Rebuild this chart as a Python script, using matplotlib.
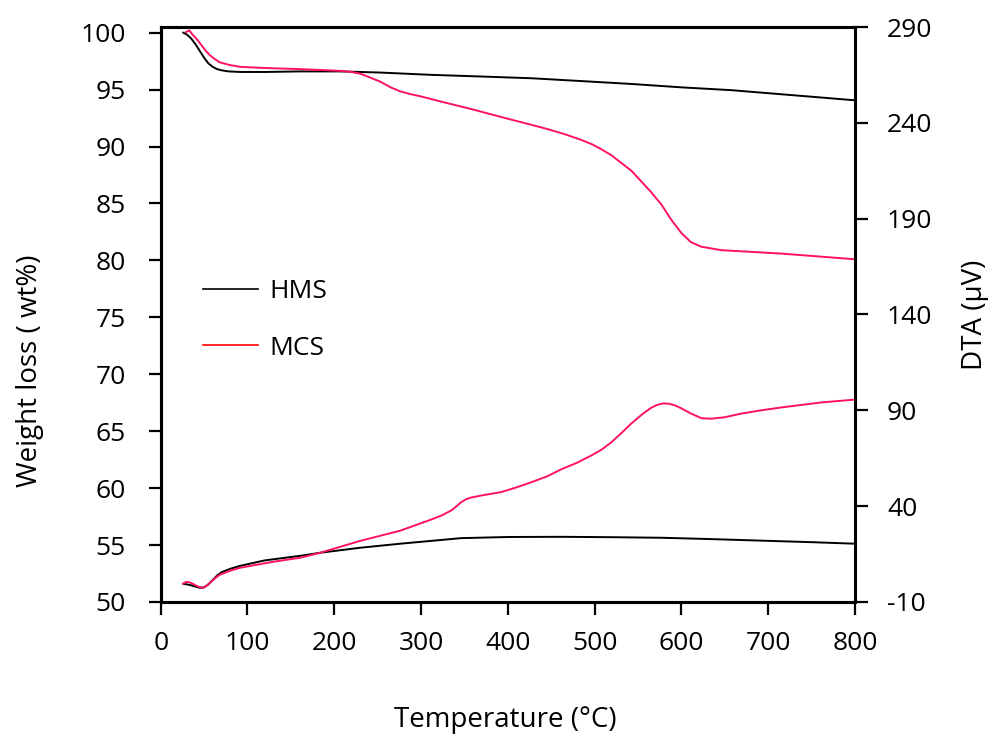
import numpy as np
import matplotlib
matplotlib.use('Agg')
import matplotlib.pyplot as plt
from matplotlib.lines import Line2D

plt.rcParams['font.family'] = ['Open Sans', 'DejaVu Sans']
plt.rcParams['axes.unicode_minus'] = False

# TGA curves (left axis, wt%)
hms_tga_t = [26, 30, 35, 40, 45, 50, 55, 60, 65, 70, 78, 92, 120, 161, 207, 253, 311,
             370, 427, 485, 542, 600, 658, 730, 802]
hms_tga_w = [100.0, 99.85, 99.5, 99.0, 98.4, 97.8, 97.3, 97.0, 96.8, 96.7, 96.6, 96.55,
             96.55, 96.6, 96.6, 96.5, 96.3, 96.15, 96.0, 95.75, 95.5, 95.2, 94.95, 94.5, 94.05]

mcs_tga_t = [29, 33, 37, 42, 47, 52, 57, 62, 68, 80, 92, 120, 161, 207, 220, 230, 240, 253,
             265, 276, 288, 300, 323, 360, 392, 420, 445, 465, 484, 497, 507, 520, 530, 542,
             553, 565, 577, 588, 600, 611, 623, 646, 715, 800]
mcs_tga_w = [100.05, 100.2, 99.8, 99.4, 98.9, 98.4, 98.0, 97.7, 97.4, 97.15, 97.0, 96.9, 96.8,
             96.65, 96.55, 96.4, 96.1, 95.7, 95.2, 94.85, 94.6, 94.4, 93.95, 93.25, 92.6, 92.05,
             91.55, 91.1, 90.6, 90.2, 89.8, 89.2, 88.6, 87.9, 87.0, 86.0, 84.9, 83.6, 82.4,
             81.6, 81.2, 80.9, 80.6, 80.1]

# DTA curves (right axis, uV)
hms_dta_t = [26, 30, 35, 40, 45, 50, 55, 60, 65, 70, 80, 92, 120, 161, 184, 230, 276, 346,
             400, 461, 520, 577, 635, 692, 750, 800]
hms_dta_v = [-0.5, -0.8, -1.3, -2.0, -2.6, -2.4, -0.8, 1.5, 3.8, 5.5, 7.3, 8.9, 11.7, 14.1,
             15.7, 18.3, 20.4, 23.3, 23.9, 24.0, 23.8, 23.5, 22.8, 22.0, 21.2, 20.4]

mcs_dta_t = [26, 29, 33, 37, 41, 45, 49, 53, 58, 63, 68, 80, 92, 130, 161, 184, 230, 276,
             311, 323, 335, 341, 346, 352, 357, 370, 392, 410, 426, 445, 461, 480, 496, 508,
             519, 531, 542, 555, 565, 572, 579, 586, 593, 600, 611, 623, 634, 650, 669, 692,
             715, 761, 800]
mcs_dta_v = [-0.5, 0.5, 0.3, -0.5, -1.5, -2.3, -2.6, -1.5, 0.5, 2.5, 4.2, 6.3, 7.9, 11.0,
             13.1, 15.7, 21.9, 27.2, 32.9, 35.0, 37.8, 40.0, 42.0, 43.6, 44.4, 45.6, 47.3, 49.8,
             52.3, 55.5, 59.1, 62.7, 66.4, 69.5, 73.2, 78.2, 83.0, 88.0, 91.3, 92.8, 93.6, 93.4,
             92.5, 91.0, 88.3, 85.9, 85.6, 86.4, 88.3, 90.0, 91.5, 94.1, 95.6]

red = '#ff1166'

fig = plt.figure(figsize=(10, 7.44), dpi=100)
ax = fig.add_axes([0.1607, 0.1909, 0.6943, 0.7728])
ax2 = ax.twinx()

ax.plot(hms_tga_t, hms_tga_w, color='black', lw=1.4)
ax.plot(mcs_tga_t, mcs_tga_w, color=red, lw=1.4)
ax2.plot(hms_dta_t, hms_dta_v, color='black', lw=1.4)
ax2.plot(mcs_dta_t, mcs_dta_v, color=red, lw=1.4)

ax.set_xlim(0, 800)
ax.set_ylim(50, 100.5)
ax.set_yticks(np.arange(50, 101, 5))
ax.set_xticks(np.arange(0, 801, 100))
ax2.set_ylim(-10, 290)
ax2.set_yticks(np.arange(-10, 291, 50))

for a in (ax, ax2):
    for s in a.spines.values():
        s.set_linewidth(2.2)
    a.tick_params(direction='out', length=9, width=1.6, labelsize=19)
ax2.spines['right'].set_linewidth(1.8)
ax.tick_params(axis='y', pad=16)
ax.tick_params(axis='x', pad=12)
ax2.tick_params(axis='y', pad=14)

ax.set_xlabel('Temperature (°C)', fontsize=20, va='center')
ax.xaxis.set_label_coords(0.496, -0.205)
ax.set_ylabel('Weight loss ( wt%)', fontsize=20, va='center')
ax.yaxis.set_label_coords(-0.188, 0.403)
ax2.set_ylabel('DTA (µV)', fontsize=20, rotation=90, va='center')
ax2.yaxis.set_label_coords(1.173, 0.499)

handles = [Line2D([], [], color='black', lw=1.2), Line2D([], [], color='red', lw=1.2)]
ax.legend(handles, ['HMS', 'MCS'], loc='upper left', bbox_to_anchor=(0.061, 0.562),
          frameon=False, fontsize=19, handlelength=2.1, handletextpad=0.4,
          labelspacing=1.2, borderpad=0, borderaxespad=0)

fig.savefig('out.png', dpi=100)
